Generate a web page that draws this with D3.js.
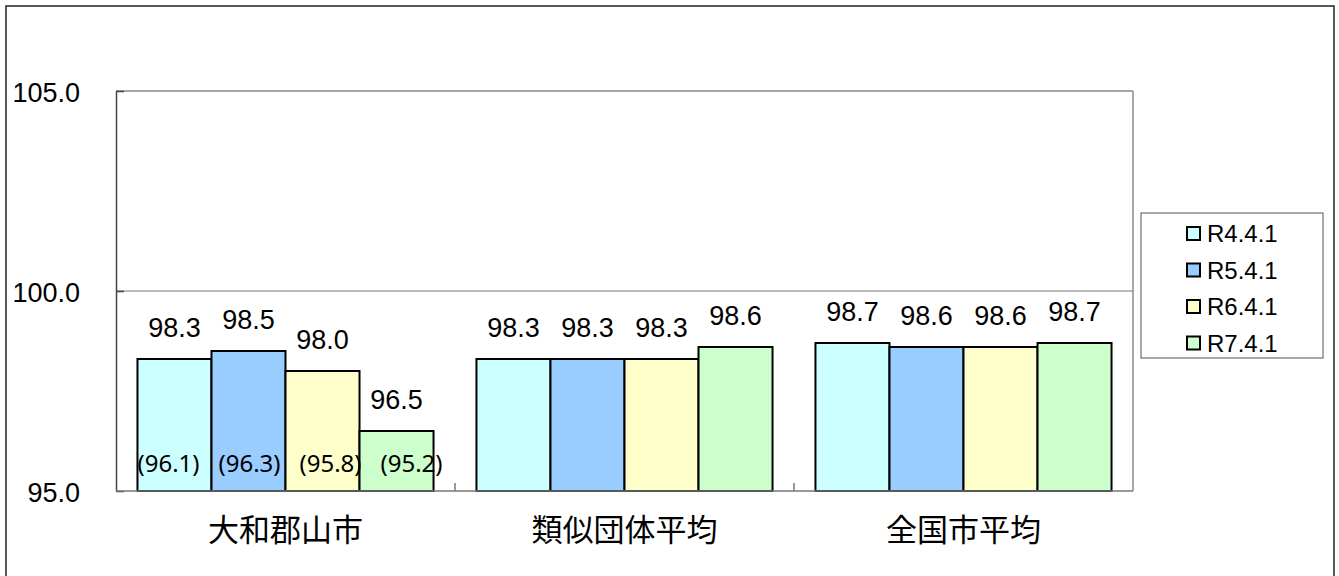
<html>

<head>
    <meta charset="utf-8">
    <style>
        body { margin: 0; background: white; }
        .num { font-family: 'Liberation Sans', Arial, sans-serif; fill: #000; }
        .cat text { font-family: 'Noto Sans CJK JP', sans-serif; font-size: 31px; fill: #000; }
        .note { font-family: 'Noto Sans', sans-serif; font-size: 24px; fill: #000; }
    </style>
</head>

<body>
    <svg id="container" height="576" width="1339"></svg>
</body>

<script src="https://cdn.jsdelivr.net/npm/d3@7"></script>
<script>
    // data
    let categories = ["大和郡山市", "類似団体平均", "全国市平均"];
    let seriesNames = ["R4.4.1", "R5.4.1", "R6.4.1", "R7.4.1"];
    let seriesColors = ["#ccffff", "#99ccff", "#ffffcc", "#ccffcc"];
    let r4 = [98.3, 98.3, 98.7];
    let r5 = [98.5, 98.3, 98.6];
    let r6 = [98.0, 98.3, 98.6];
    let r7 = [96.5, 98.6, 98.7];
    let notes = [96.1, 96.3, 95.8, 95.2]; // bracket values for 大和郡山市
    let yTicks = [95, 100, 105];

    let values = [r4, r5, r6, r7];
    let svg = d3.select("#container");

    // outer frame
    svg.append("rect")
        .attr("x", 6).attr("y", 6)
        .attr("width", 1328).attr("height", 590)
        .attr("fill", "none").attr("stroke", "#222").attr("stroke-width", 1.5);

    let plotLeft = 116, plotRight = 1133, plotTop = 91, plotBottom = 491;

    // Scales
    let yScale = d3.scaleLinear().domain([95, 105]).range([plotBottom, plotTop]);
    let x0 = d3.scaleBand().domain(categories).range([plotLeft, plotRight]);
    let x1 = d3.scaleBand().domain(seriesNames).range([0, x0.bandwidth()]).paddingOuter(0.29);
    let xNote = d3.scaleBand().domain(seriesNames).range([12, 336]);

    // plot frame + grid
    svg.append("line").attr("x1", plotLeft).attr("x2", plotRight).attr("y1", plotTop).attr("y2", plotTop)
        .attr("stroke", "#8a8a8a").attr("stroke-width", 1.5);
    svg.append("line").attr("x1", plotRight).attr("x2", plotRight).attr("y1", plotTop).attr("y2", plotBottom)
        .attr("stroke", "#8a8a8a").attr("stroke-width", 1.5);
    svg.append("line").attr("x1", plotLeft).attr("x2", plotRight).attr("y1", yScale(100)).attr("y2", yScale(100))
        .attr("stroke", "#777").attr("stroke-width", 1);

    // y axis
    let yAxis = svg.append("g")
        .attr("transform", `translate(${plotLeft},0)`)
        .call(d3.axisLeft(yScale).tickValues(yTicks).tickFormat(d3.format(".1f"))
            .tickSizeInner(-8).tickSizeOuter(0).tickPadding(36));
    yAxis.select(".domain").attr("stroke", "#444").attr("stroke-width", 1.5);
    yAxis.selectAll(".tick line").attr("stroke", "#444").attr("stroke-width", 1.5);
    yAxis.selectAll("text").attr("class", "num").style("font-size", "27px").attr("dy", "0.39em");

    // bars
    let groups = svg.selectAll(".grp")
        .data(categories)
        .join("g")
        .attr("class", "grp")
        .attr("transform", (d) => `translate(${x0(d)},0)`);

    groups.each(function (cat, ci) {
        let g = d3.select(this);
        let rows = seriesNames.map((s, si) => ({ s: s, si: si, v: values[si][ci] }));
        g.selectAll("rect")
            .data(rows)
            .join("rect")
            .attr("x", (d) => x1(d.s))
            .attr("y", (d) => yScale(d.v))
            .attr("width", x1.bandwidth())
            .attr("height", (d) => yScale(95) - yScale(d.v))
            .attr("fill", (d) => seriesColors[d.si])
            .attr("stroke", "#000")
            .attr("stroke-width", 2);
        g.selectAll("text.val")
            .data(rows)
            .join("text")
            .attr("class", "val num")
            .attr("x", (d) => x1(d.s) + x1.bandwidth() / 2)
            .attr("y", (d) => yScale(d.v) - 22)
            .attr("text-anchor", "middle")
            .style("font-size", "27px")
            .text((d) => d.v.toFixed(1));
    });

    // bracket notes on first group
    svg.selectAll("text.note")
        .data(notes)
        .join("text")
        .attr("class", "note")
        .attr("x", (d, i) => x0(categories[0]) + xNote(seriesNames[i]) + xNote.bandwidth() / 2)
        .attr("y", yScale(95) - 19)
        .attr("text-anchor", "middle")
        .text((d) => `(${d.toFixed(1)})`);

    // x axis
    svg.append("line").attr("x1", plotLeft).attr("x2", plotRight).attr("y1", plotBottom).attr("y2", plotBottom)
        .attr("stroke", "#777").attr("stroke-width", 1.5);
    svg.selectAll(".sep")
        .data(categories.slice(1))
        .join("line")
        .attr("class", "sep")
        .attr("x1", (d) => x0(d)).attr("x2", (d) => x0(d))
        .attr("y1", plotBottom).attr("y2", plotBottom - 8)
        .attr("stroke", "#777").attr("stroke-width", 1.5);
    let xAxis = svg.append("g")
        .attr("class", "cat")
        .attr("transform", `translate(0,${plotBottom})`)
        .call(d3.axisBottom(x0).tickSize(0).tickPadding(28));
    xAxis.select(".domain").remove();

    // legend
    let legend = svg.append("g").attr("transform", "translate(1141,213)");
    legend.append("rect")
        .attr("width", 182).attr("height", 145)
        .attr("fill", "white").attr("stroke", "#555").attr("stroke-width", 1);
    let items = legend.selectAll(".item")
        .data(seriesNames)
        .join("g")
        .attr("class", "item")
        .attr("transform", (d, i) => `translate(0,${20 + i * 36.5})`);
    items.append("rect")
        .attr("x", 46).attr("y", -6)
        .attr("width", 13).attr("height", 13)
        .attr("fill", (d, i) => seriesColors[i])
        .attr("stroke", "#000").attr("stroke-width", 2);
    items.append("text")
        .attr("class", "num")
        .attr("x", 66).attr("y", 9)
        .style("font-size", "24px")
        .text((d) => d);
</script>

</html>
